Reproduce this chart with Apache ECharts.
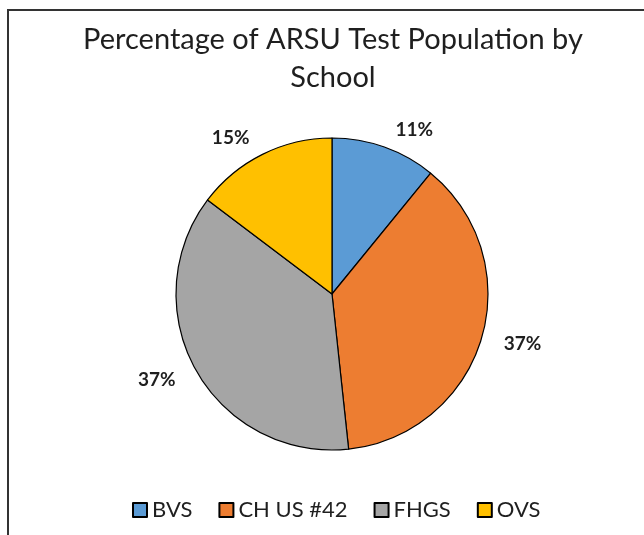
<!DOCTYPE html>
<html lang="en">
<head>
	<meta charset="UTF-8">
	<title>ARSU Test Population by School</title>
	<style type="text/css">
		html, body { margin: 0; padding: 0; background: #fff; }
	</style>
</head>
<body>
     <div id="main" style="width:644px;height:535px;"></div>
</body>
</html>
<script type="text/javascript" src="https://cdn.jsdelivr.net/npm/echarts@6/dist/echarts.min.js"></script>
<script type="text/javascript">
    var schools = ["BVS", "CH US #42", "FHGS", "OVS"];
    var shares = [10.9, 37.4, 37.0, 14.7]; // percent of test population
    var sliceColors = ["#5B9BD5", "#ED7D31", "#A5A5A5", "#FFC000"];

    drawChart();
    function drawChart() {
        var myChart = echarts.init(document.getElementById('main'));
        var pieData = [];
        for (var i = 0; i < schools.length; i++) {
            pieData.push({ name: schools[i], value: shares[i] });
        }
        var option = {
            backgroundColor: '#fff',
            color: sliceColors,
            animation: false,
            title: {
                text: 'Percentage of ARSU Test Population by\nSchool',
                left: 328,          // with textAlign center this is the middle of the text
                top: 16,
                textAlign: 'center',
                textStyle: {
                    fontFamily: 'Lato',
                    fontSize: 29,
                    fontWeight: 'normal',
                    color: '#1f1f1f',
                    lineHeight: 38
                }
            },
            legend: {
                bottom: 9,
                left: 127,
                itemWidth: 14,
                itemHeight: 14,
                itemGap: 26,
                icon: 'rect',
                textStyle: {
                    fontFamily: 'Lato',
                    fontSize: 22,
                    color: '#1f1f1f'
                },
                data: schools
            },
            graphic: [{
                type: 'rect',
                shape: { x: 8, y: 10, width: 700, height: 600 },
                style: { fill: 'none', stroke: '#333', lineWidth: 2 },
                silent: true
            }],
            series: [{
                type: 'pie',
                center: [332, 294],
                radius: 156,
                startAngle: 90,
                clockwise: true,
                itemStyle: { borderColor: '#000', borderWidth: 1.2 },
                label: {
                    show: true,
                    position: 'outside',
                    formatter: '{d}%',
                    fontFamily: 'Lato',
                    fontSize: 19,
                    fontWeight: 'bold',
                    color: '#1f1f1f'
                },
                labelLine: { show: false, length: 18, length2: 0 },
                percentPrecision: 0,
                data: pieData
            }]
        };
        myChart.setOption(option);
    }
</script>
